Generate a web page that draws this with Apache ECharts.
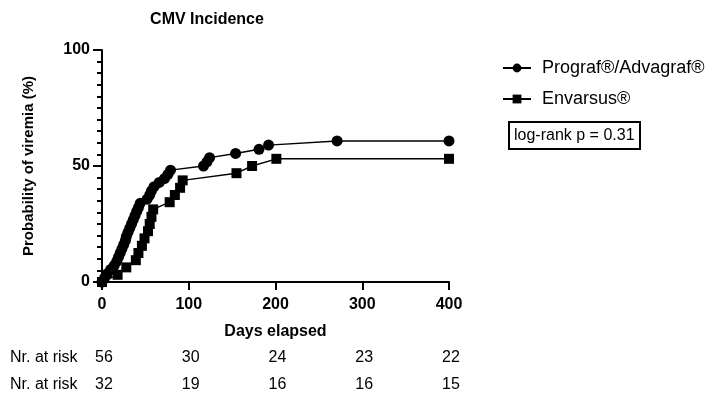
<!DOCTYPE html>
<html>
<head>
<meta charset="utf-8">
<script src="https://cdn.jsdelivr.net/npm/echarts@6.0.0/dist/echarts.min.js"></script>
<style>
  html, body { margin: 0; padding: 0; background: #fff; }
  #chart { width: 716px; height: 396px; }
</style>
</head>
<body>
<div id="chart"></div>
<script>
// Kaplan-Meier points (day, % with viremia)
const prografData = [
  [0, 0], [3, 1.8], [6, 3.6], [10, 5.4], [14, 7.1], [17, 8.9], [19, 10.7],
  [21, 12.5], [23, 14.3], [25, 16.1], [27, 17.9], [28, 19.6], [30, 21.4],
  [32, 23.2], [34, 25.0], [36, 26.8], [38, 28.6], [40, 30.4], [42, 32.1],
  [44, 33.9], [52, 35.7], [55, 37.5], [57, 39.3], [60, 41.1], [66, 42.9],
  [72, 44.6], [76, 46.4], [79, 48.2], [117, 50.0], [121, 51.8], [124, 53.6],
  [154, 55.4], [181, 57.2], [192, 59.0], [271, 60.8], [400, 60.8]
];
const envarsusData = [
  [0, 0], [18, 3.1], [28, 6.3], [39, 9.4], [42, 12.5], [46, 15.6], [49, 18.8],
  [53, 21.9], [55, 25.0], [57, 28.1], [59, 31.3], [78, 34.4], [84, 37.5],
  [90, 40.6], [93, 43.8], [155, 46.9], [173, 50.0], [201, 53.1], [400, 53.1]
];
const seriesNames = ['Prograf®/Advagraf®', 'Envarsus®'];
const riskDays = [0, 100, 200, 300, 400];
const riskPrograf = [56, 30, 24, 23, 22];
const riskEnvarsus = [32, 19, 16, 16, 15];

const FONT = 'Liberation Sans, Arial, sans-serif';
const chart = echarts.init(document.getElementById('chart'));

const lineSeries = (name, data, symbol, size) => ({
  name: name,
  type: 'line',
  data: data,
  symbol: symbol,
  symbolSize: size,
  color: '#000',
  lineStyle: { color: '#000', width: 1.4 },
  itemStyle: { color: '#000' },
  z: 3
});

chart.setOption({
  animation: false,
  title: {
    text: 'CMV Incidence',
    left: 202,
    textAlign: 'center',
    top: 7,
    textStyle: { fontFamily: FONT, fontSize: 16, fontWeight: 'bold', color: '#000' }
  },
  grid: { left: 102, right: 267, top: 50, bottom: 114 },
  legend: {
    orient: 'vertical',
    left: 497,
    top: 54,
    itemWidth: 28,
    itemHeight: 11,
    itemGap: 13,
    data: seriesNames,
    textStyle: { fontFamily: FONT, fontSize: 18, color: '#000', padding: [0, 0, 0, 6] }
  },
  xAxis: {
    type: 'value',
    min: 0, max: 400, interval: 100,
    name: 'Days elapsed',
    nameLocation: 'middle',
    nameGap: 42,
    nameTextStyle: { fontFamily: FONT, fontSize: 16, fontWeight: 'bold', color: '#000' },
    axisLine: { show: true, onZero: false, lineStyle: { color: '#000', width: 2 } },
    axisTick: { show: true, length: 8, lineStyle: { color: '#000', width: 2 } },
    axisLabel: { margin: 15, fontFamily: FONT, fontSize: 16, fontWeight: 'bold', color: '#000' },
    splitLine: { show: false }
  },
  yAxis: {
    type: 'value',
    min: 0, max: 100, interval: 50,
    name: 'Probability of viremia (%)',
    nameLocation: 'middle',
    nameGap: 66,
    nameTextStyle: { fontFamily: FONT, fontSize: 15, fontWeight: 'bold', color: '#000' },
    axisLine: { show: true, lineStyle: { color: '#000', width: 2 } },
    axisTick: { show: true, length: 9, lineStyle: { color: '#000', width: 2 } },
    minorTick: { show: true, splitNumber: 10, length: 5, lineStyle: { color: '#000', width: 2 } },
    axisLabel: { margin: 12, fontFamily: FONT, fontSize: 16, fontWeight: 'bold', color: '#000' },
    splitLine: { show: false },
    minorSplitLine: { show: false }
  },
  series: [
    lineSeries(seriesNames[0], prografData, 'circle', 11),
    lineSeries(seriesNames[1], envarsusData, 'rect', 10)
  ]
});

// log-rank box + numbers at risk placed under the x ticks
const graphics = [
  {
    type: 'rect',
    shape: { x: 509, y: 122, width: 131, height: 27 },
    style: { fill: '#fff', stroke: '#000', lineWidth: 2 }
  },
  {
    type: 'text',
    x: 514, y: 135.5,
    style: { text: 'log-rank p = 0.31', font: '16px ' + FONT, fill: '#000', textVerticalAlign: 'middle' }
  }
];
const rows = [[riskPrograf, 358], [riskEnvarsus, 385]];
rows.forEach(([vals, y]) => {
  graphics.push({
    type: 'text', x: 10, y: y,
    style: { text: 'Nr. at risk', font: '16px ' + FONT, fill: '#000', textVerticalAlign: 'middle' }
  });
  riskDays.forEach((d, i) => {
    const px = chart.convertToPixel({ xAxisIndex: 0 }, d);
    graphics.push({
      type: 'text', x: px + 2, y: y,
      style: { text: String(vals[i]), font: '16px ' + FONT, fill: '#000', textAlign: 'center', textVerticalAlign: 'middle' }
    });
  });
});
chart.setOption({ graphic: graphics });
</script>
</body>
</html>
